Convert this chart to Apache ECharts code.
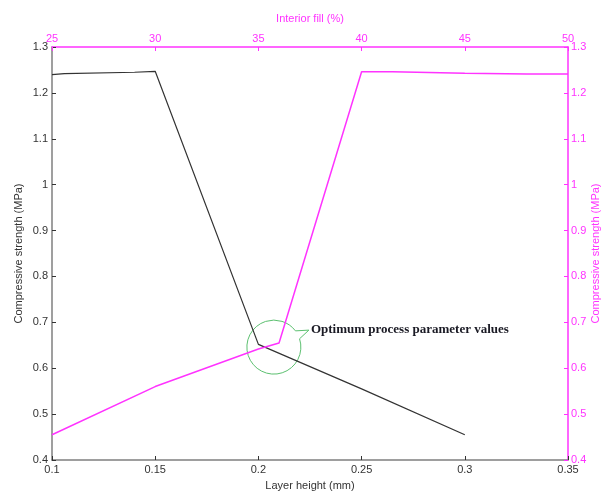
<!DOCTYPE html>
<html><head><meta charset="utf-8">
<script src="https://cdn.jsdelivr.net/npm/echarts@6/dist/echarts.min.js"></script>
<style>html,body{margin:0;padding:0;background:#fff}#c{width:614px;height:492px}</style>
</head><body><div id="c"></div>
<script>
// Layer height (bottom axis) vs compressive strength (left axis)
const layerHeight = [0.1, 0.106, 0.14, 0.15, 0.2, 0.25, 0.3];
const strengthByLayer = [1.24, 1.242, 1.245, 1.247, 0.652, 0.555, 0.455];
// Interior fill (top axis) vs compressive strength (right axis)
const interiorFill = [25, 30, 35, 36, 40, 41.5, 45, 48, 50];
const strengthByFill = [0.455, 0.56, 0.642, 0.655, 1.246, 1.246, 1.243, 1.241, 1.241];
const annotationText = 'Optimum process parameter values';
const annotationPoint = [0.2075, 0.646];

const fmt = v => String(Math.round(v * 1000) / 1000);
const gray = '#7f7f7f', dark = '#333', mag = '#ff33ff';
const font = 'Liberation Sans, Arial, sans-serif';

const chart = echarts.init(document.getElementById('c'));
chart.setOption({
  animation: false,
  backgroundColor: '#fff',
  grid: {left: 52, right: 46, top: 47, bottom: 32, containLabel: false, outerBoundsMode: 'none'},
  xAxis: [
    {type: 'value', position: 'bottom', min: 0.1, max: 0.35, interval: 0.05,
     name: 'Layer height (mm)', nameLocation: 'middle', nameGap: 20,
     nameTextStyle: {color: dark, fontSize: 11, fontFamily: font},
     axisLine: {lineStyle: {color: gray, width: 1.5}},
     axisTick: {inside: true, length: 4, lineStyle: {color: dark}},
     axisLabel: {color: dark, fontSize: 11, fontFamily: font, margin: 4, formatter: fmt},
     splitLine: {show: false}},
    {type: 'value', position: 'top', min: 25, max: 50, interval: 5,
     name: 'Interior fill (%)', nameLocation: 'middle', nameGap: 23,
     nameTextStyle: {color: mag, fontSize: 11, fontFamily: font},
     axisLine: {lineStyle: {color: mag, width: 1.5}},
     axisTick: {inside: true, length: 4, lineStyle: {color: mag}},
     axisLabel: {color: mag, fontSize: 11, fontFamily: font, margin: 3},
     splitLine: {show: false}}
  ],
  yAxis: [
    {type: 'value', position: 'left', min: 0.4, max: 1.3, interval: 0.1,
     name: 'Compressive strength (MPa)', nameLocation: 'middle', nameGap: 28, nameRotate: 90,
     nameMoveOverlap: false,
     nameTextStyle: {color: dark, fontSize: 11, fontFamily: font},
     axisLine: {show: true, lineStyle: {color: gray, width: 1.5}},
     axisTick: {show: true, inside: true, length: 4, lineStyle: {color: dark}},
     axisLabel: {color: dark, fontSize: 11, fontFamily: font, margin: 4, formatter: fmt},
     splitLine: {show: false}},
    {type: 'value', position: 'right', min: 0.4, max: 1.3, interval: 0.1,
     name: 'Compressive strength (MPa)', nameLocation: 'middle', nameGap: 22, nameRotate: 90,
     nameMoveOverlap: false,
     nameTextStyle: {color: mag, fontSize: 11, fontFamily: font},
     axisLine: {show: true, lineStyle: {color: mag, width: 1.5}},
     axisTick: {show: true, inside: true, length: 4, lineStyle: {color: mag}},
     axisLabel: {color: mag, fontSize: 11, fontFamily: font, margin: 3, formatter: fmt},
     splitLine: {show: false}}
  ],
  series: [
    {type: 'line', xAxisIndex: 0, yAxisIndex: 0, showSymbol: false,
     data: layerHeight.map((x, i) => [x, strengthByLayer[i]]),
     lineStyle: {color: '#333', width: 1.2}},
    {type: 'line', xAxisIndex: 1, yAxisIndex: 1, showSymbol: false,
     data: interiorFill.map((x, i) => [x, strengthByFill[i]]),
     lineStyle: {color: mag, width: 1.5}}
  ]
});

const c = chart.convertToPixel({xAxisIndex: 0, yAxisIndex: 0}, annotationPoint);
const r = 27;
const green = '#5cc070';
const a1 = -37 * Math.PI / 180, a2 = -18 * Math.PI / 180;
const p1 = [c[0] + r * Math.cos(a1), c[1] + r * Math.sin(a1)];
const p2 = [c[0] + r * Math.cos(a2), c[1] + r * Math.sin(a2)];
const tip = [c[0] + 35, c[1] - 17];
chart.setOption({
  graphic: [
    {type: 'arc', shape: {cx: c[0], cy: c[1], r: r, startAngle: a2, endAngle: a1 + 2 * Math.PI, clockwise: true},
     style: {stroke: green, fill: null, lineWidth: 1}},
    {type: 'polyline', shape: {points: [p1, tip, p2]}, style: {stroke: green, fill: null, lineWidth: 1}},
    {type: 'text', x: tip[0] + 2, y: tip[1], style: {text: annotationText, fill: '#1a1a24',
      font: 'bold 13px "Liberation Serif", "Times New Roman", serif', textVerticalAlign: 'middle'}}
  ]
});
</script></body></html>
